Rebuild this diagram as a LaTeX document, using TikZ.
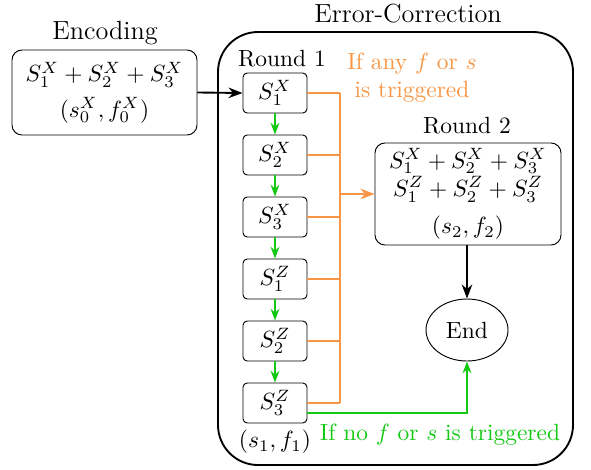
\documentclass[tikz,border=0pt]{standalone}
\usepackage{tikz}
\usetikzlibrary{arrows.meta,shapes.geometric}
\definecolor{trigorange}{RGB}{247,150,70}
\definecolor{passgreen}{RGB}{20,200,20}
\tikzset{
  stab/.style={draw, rounded corners=1.8pt, minimum width=0.96cm, minimum height=0.6cm, inner sep=1pt},
  roundbox/.style={draw, rounded corners=0.15cm, align=center, inner sep=2pt},
  steparr/.style={draw=passgreen, thick, -{Stealth[length=5pt]}},
  trigline/.style={draw=trigorange, thick},
  mainarr/.style={thick, -{Stealth[length=6pt]}},
  headlabel/.style={font=\fontsize{11.2}{13}\selectfont}
}

\begin{document}
\begin{tikzpicture}[x=0.015cm, y=-0.015cm]
	\useasboundingbox (0,0) rectangle (591,469);
	
	\node[headlabel] (enclabel) at (105,33) {Encoding};
	\node[roundbox, minimum width=2.775cm, minimum height=1.275cm] (enc) at (104.5,92.5)
		{$S_1^X+S_2^X+S_3^X$\\[3pt]$(s_0^X,f_0^X)$};
	
	\node[headlabel] (eclabel) at (408,14) {Error-Correction};
	\draw[thick, rounded corners=0.6cm] (218,32) rectangle (573,465);
	
	\node (r1label) at (282,59) {Round 1};
	\node[stab] (x1) at (275,93) {$S_1^X$};
	\node[stab] (x2) at (275,155) {$S_2^X$};
	\node[stab] (x3) at (275,217) {$S_3^X$};
	\node[stab] (z1) at (275,279) {$S_1^Z$};
	\node[stab] (z2) at (275,341) {$S_2^Z$};
	\node[stab] (z3) at (275,403) {$S_3^Z$};
	\node (r1sf) at (275,442) {$(s_1,f_1)$};
	
	\foreach \a/\b in {x1/x2, x2/x3, x3/z1, z1/z2, z2/z3}
		\draw[steparr] (\a) -- (\b);
	
	\draw[mainarr] (enc.east) -- (x1.west);
	
	\coordinate (bustop) at (340,93);
	\coordinate (busbot) at (340,403);
	\draw[trigline] (bustop) -- (busbot);
	\foreach \s in {x1, x2, x3, z1, z2, z3}
		\draw[trigline] (\s.east) -- (\s.east -| bustop);
	
	\node[text=trigorange, align=center] (triglabel) at (412,78) {If any $f$ or $s$\\is triggered};
	
	\node (r2label) at (467,126) {Round 2};
	\node[roundbox, minimum width=2.79cm, minimum height=1.53cm] (r2) at (468,194)
		{$S_1^X+S_2^X+S_3^X$\\$S_1^Z+S_2^Z+S_3^Z$\\[4pt]$(s_2,f_2)$};
	\draw[trigline, -{Stealth[length=6pt]}] (r2.west -| bustop) -- (r2.west);
	
	\node[draw, ellipse, minimum width=1.23cm, minimum height=0.93cm] (endn) at (467,330) {End};
	\draw[mainarr] (r2.south -| endn.north) -- (endn.north);
	
	\coordinate (passstart) at (307,413);
	\draw[steparr] (passstart) -| (endn.south);
	\node[text=passgreen] (passlabel) at (440,435) {If no $f$ or $s$ is triggered};
\end{tikzpicture}
\end{document}
